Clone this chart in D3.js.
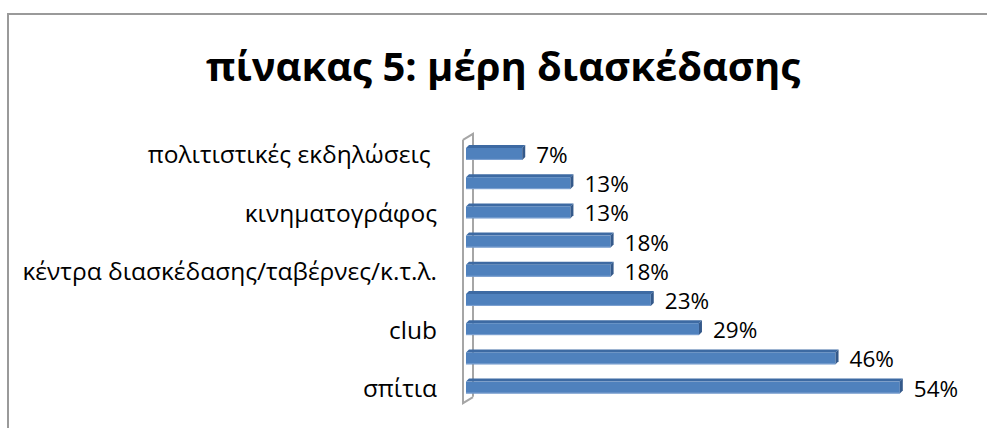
<!DOCTYPE html>
<html>
<head>
<meta charset="utf-8">
<script src="https://cdn.jsdelivr.net/npm/d3@7/dist/d3.min.js"></script>
<style>
  html, body { margin: 0; padding: 0; background: #fff; }
  svg { display: block; }
</style>
</head>
<body>
<svg id="chart" width="987" height="428"></svg>
<script>
// ---- data ----
const title = "πίνακας 5: μέρη διασκέδασης";
const categoryLabels = [
  "πολιτιστικές εκδηλώσεις ", "", "κινηματογράφος", "",
  "κέντρα διασκέδασης/ταβέρνες/κ.τ.λ.", "", "club", "", "σπίτια"
];
const values = [7, 13, 13, 18, 18, 23, 29, 46, 54];
const valueDomain = [0, 60];

// ---- drawing ----
const svg = d3.select("#chart");
const font = "'Open Sans', 'Noto Sans', sans-serif";

// chart area border (extends past the window on the right and bottom)
svg.append("rect")
  .attr("x", 8).attr("y", 14)
  .attr("width", 1100).attr("height", 600)
  .attr("fill", "#fff")
  .attr("stroke", "#9a9a9a")
  .attr("stroke-width", 2);

svg.append("text")
  .attr("x", 503).attr("y", 81)
  .attr("text-anchor", "middle")
  .attr("font-family", font)
  .attr("font-weight", "bold")
  .attr("font-size", 40)
  .attr("fill", "#000")
  .text(title);

const x = d3.scaleLinear().domain(valueDomain).range([466, 948]);
const idx = d3.range(values.length);
const y = d3.scaleBand().domain(idx).range([137.85, 400.65])
  .paddingInner(0.49).paddingOuter(0.245);

const bw = y.bandwidth();
const d = 3; // 3-D depth of the bars

// wall (thin 3-D slab)
const wx0 = x(0) - 3, wx1 = x(0) + 7;
const [r0, r1] = y.range();
const wall = svg.append("g")
  .attr("fill", "none").attr("stroke", "#a6a6a6").attr("stroke-width", 2);
wall.append("path")
  .attr("d", `M${wx0},${r0 + 2}L${wx1},${r0 - 4}L${wx1},${r1 - 4}`);
wall.append("path")
  .attr("d", `M${wx0},${r0 + 2}L${wx0},${r1 + 2.5}L${wx1},${r1 - 3.5}`);

// bars
const bars = svg.append("g").selectAll("g").data(idx).join("g");
bars.append("path") // top face
  .attr("fill", "#3d6aa3")
  .attr("d", i => {
    const x0 = x(0), x1 = x(values[i]), yt = y(i);
    return `M${x0},${yt + d}L${x0 + d},${yt}L${x1 + d},${yt}L${x1},${yt + d}Z`;
  });
bars.append("rect") // front face
  .attr("fill", "#4f81bd")
  .attr("x", x(0))
  .attr("y", i => y(i) + d)
  .attr("width", i => x(values[i]) - x(0))
  .attr("height", bw - d);
bars.append("rect") // light lower edge
  .attr("fill", "#7fa3d2")
  .attr("x", x(0))
  .attr("y", i => y(i) + bw - 1)
  .attr("width", i => x(values[i]) - x(0))
  .attr("height", 1);
bars.append("path") // side face
  .attr("fill", "#34598a")
  .attr("d", i => {
    const x1 = x(values[i]), yt = y(i);
    return `M${x1},${yt + d}L${x1 + d},${yt}L${x1 + d},${yt + bw - d}L${x1},${yt + bw}Z`;
  });

// value labels
svg.append("g").selectAll("text").data(idx).join("text")
  .attr("x", i => x(values[i]) + 14)
  .attr("y", i => y(i) + bw / 2 + 10.5)
  .attr("font-family", font)
  .attr("font-size", 22.5)
  .attr("fill", "#000")
  .text(i => values[i] + "%");

// category axis
const yAxis = d3.axisLeft(y)
  .tickSize(0).tickPadding(0)
  .tickFormat(i => categoryLabels[i]);
const ax = svg.append("g")
  .attr("transform", "translate(437,0)")
  .call(yAxis);
ax.select(".domain").remove();
ax.selectAll("text")
  .attr("font-family", font)
  .attr("font-size", 24.5)
  .attr("fill", "#000")
  .attr("dy", "0.45em")
  .style("white-space", "pre");
</script>
</body>
</html>
